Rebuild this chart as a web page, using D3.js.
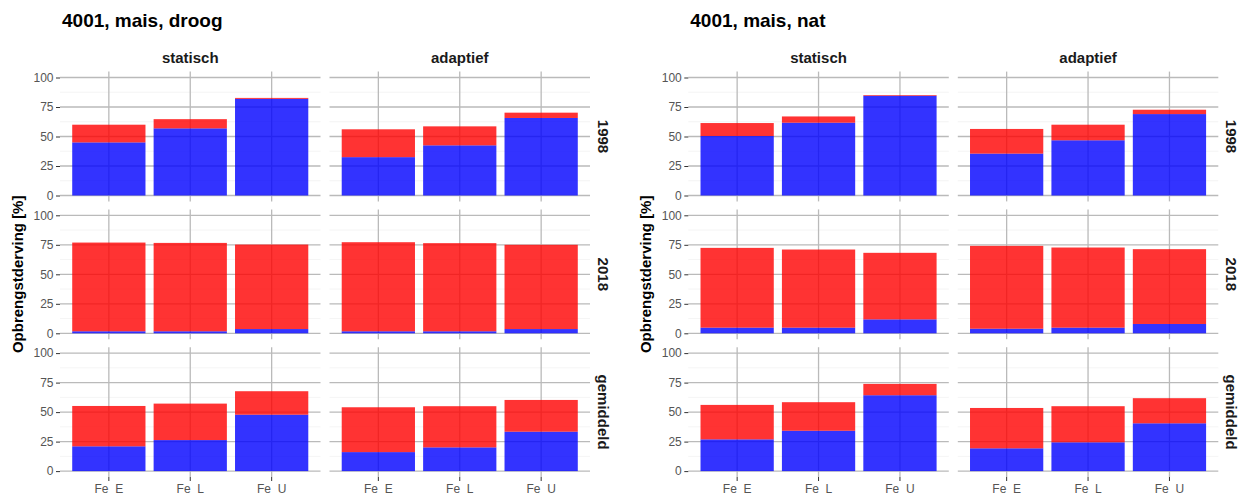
<!DOCTYPE html>
<html>
<head>
<meta charset="utf-8">
<script src="https://cdn.jsdelivr.net/npm/d3@7"></script>
<style>
  body { margin: 0; background: #fff; }
  svg text { font-family: "Liberation Sans", Arial, sans-serif; }
</style>
</head>
<body>
<div id="canvas"></div>
<script>
"use strict"

/* Data: categories, facets, tick labels */
let categories = ["Fe  E", "Fe  L", "Fe  U"];
let scenarios = ["statisch", "adaptief"];
let years = ["1998", "2018", "gemiddeld"];
let yTicks = [0, 25, 50, 75, 100];

/* values per [year][scenario][category] */
let droogTotaal = [
    [[60.0, 64.7, 82.7], [56.1, 58.6, 70.2]],
    [[76.9, 76.6, 75.2], [77.2, 76.4, 75.0]],
    [[55.2, 57.2, 67.7], [54.1, 55.0, 60.3]]
];
let droogBlauw = [
    [[45.0, 56.9, 81.9], [32.5, 42.5, 65.7]],
    [[1.7, 1.7, 3.6], [1.7, 1.7, 3.6]],
    [[21.0, 26.3, 47.8], [16.1, 20.1, 33.4]]
];
let natTotaal = [
    [[61.4, 67.0, 85.1], [56.4, 60.0, 72.7]],
    [[72.4, 71.0, 68.2], [74.1, 72.7, 71.3]],
    [[56.1, 58.4, 73.9], [53.5, 55.0, 61.8]]
];
let natBlauw = [
    [[50.4, 61.7, 84.5], [35.5, 46.8, 69.0]],
    [[4.8, 4.8, 11.8], [3.9, 4.8, 7.9]],
    [[26.9, 34.2, 64.3], [19.3, 24.4, 40.5]]
];

/* Configuration variables: drawing */
let svgWidth = 1240;
let svgHeight = 495;
let panelWidth = 260.5;
let panelHeight = 129.8;
let panelGap = 9;
let rowPitch = 137.8;
let panelTop = 71.6;

let svg = d3.select("#canvas")
    .append("svg")
    .attr("width", svgWidth)
    .attr("height", svgHeight);

let x = d3.scaleBand()
    .domain(categories)
    .range([0, panelWidth])
    .paddingInner(0.1)
    .paddingOuter(0.15);

let y = d3.scaleLinear()
    .domain([-5, 105])
    .range([panelHeight, 0]);

let stack = d3.stack().keys(["blauw", "rood"]);
let colors = { blauw: "#0000ff", rood: "#ff0000" };

function drawChart(left, title, totaal, blauw) {
    let chart = svg.append("g").attr("transform", "translate(" + left + ",0)");

    chart.append("text")
        .attr("x", 2)
        .attr("y", 27)
        .attr("font-size", 19)
        .attr("font-weight", "bold")
        .attr("fill", "#000")
        .text(title);

    /* y axis title */
    chart.append("text")
        .attr("transform", "translate(-43," + (panelTop + rowPitch + panelHeight / 2) + ") rotate(-90)")
        .attr("text-anchor", "middle")
        .attr("dominant-baseline", "central")
        .attr("font-size", 15)
        .attr("font-weight", "bold")
        .attr("fill", "#000")
        .text("Opbrengstderving [%]");

    scenarios.forEach(function (scen, c) {
        let px = c * (panelWidth + panelGap);
        chart.append("text")
            .attr("x", px + panelWidth / 2)
            .attr("y", 63)
            .attr("text-anchor", "middle")
            .attr("font-size", 15)
            .attr("font-weight", "bold")
            .attr("fill", "#1a1a1a")
            .text(scen);
    });

    years.forEach(function (year, r) {
        let py = panelTop + r * rowPitch;

        /* strip on the right */
        chart.append("text")
            .attr("transform", "translate(" + (2 * panelWidth + panelGap + 13.5) + "," + (py + panelHeight / 2) + ") rotate(90)")
            .attr("text-anchor", "middle")
            .attr("dominant-baseline", "central")
            .attr("font-size", 15)
            .attr("font-weight", "bold")
            .attr("fill", "#1a1a1a")
            .text(year);

        scenarios.forEach(function (scen, c) {
            let px = c * (panelWidth + panelGap);
            let panel = chart.append("g").attr("transform", "translate(" + px + "," + py + ")");

            /* minor grid */
            panel.selectAll(".minor")
                .data([12.5, 37.5, 62.5, 87.5])
                .join("line")
                .attr("x1", 0).attr("x2", panelWidth)
                .attr("y1", d => y(d)).attr("y2", d => y(d))
                .attr("stroke", "#ededed")
                .attr("stroke-width", 0.6);

            /* major grid */
            panel.selectAll(".hmajor")
                .data(yTicks)
                .join("line")
                .attr("x1", 0).attr("x2", panelWidth)
                .attr("y1", d => y(d)).attr("y2", d => y(d))
                .attr("stroke", "#bababa")
                .attr("stroke-width", 1.3);

            panel.selectAll(".vmajor")
                .data(categories)
                .join("line")
                .attr("x1", d => x(d) + x.bandwidth() / 2)
                .attr("x2", d => x(d) + x.bandwidth() / 2)
                .attr("y1", 0).attr("y2", panelHeight)
                .attr("stroke", "#bababa")
                .attr("stroke-width", 1.3);

            let rows = categories.map(function (cat, i) {
                let b = blauw[r][c][i];
                return { cat: cat, blauw: b, rood: totaal[r][c][i] - b };
            });

            panel.selectAll(".layer")
                .data(stack(rows))
                .join("g")
                .attr("fill", d => colors[d.key])
                .attr("fill-opacity", 0.8)
                .selectAll("rect")
                .data(d => d)
                .join("rect")
                .attr("x", d => x(d.data.cat))
                .attr("width", x.bandwidth())
                .attr("y", d => y(d[1]))
                .attr("height", d => y(d[0]) - y(d[1]));

            /* y axis on left column */
            if (c === 0) {
                let ax = panel.append("g")
                    .call(d3.axisLeft(y).tickValues(yTicks).tickSize(4).tickPadding(2.5));
                ax.select(".domain").remove();
                ax.selectAll("line").attr("stroke", "#333");
                ax.selectAll("text")
                    .attr("font-size", 12)
                    .attr("fill", "#555")
                    .style("font-family", "'Liberation Sans', Arial, sans-serif");
            }

            /* x axis on bottom row */
            if (r === years.length - 1) {
                let ax = panel.append("g")
                    .attr("transform", "translate(0," + panelHeight + ")")
                    .call(d3.axisBottom(x).tickSize(4).tickPadding(3));
                ax.select(".domain").remove();
                ax.selectAll("line").attr("stroke", "#333");
                ax.selectAll("text")
                    .attr("font-size", 12)
                    .attr("fill", "#555")
                    .style("white-space", "pre")
                    .style("font-family", "'Liberation Sans', Arial, sans-serif");
            }
        });
    });
}

drawChart(60, "4001, mais, droog", droogTotaal, droogBlauw);
drawChart(688.3, "4001, mais, nat", natTotaal, natBlauw);
</script>
</body>
</html>
